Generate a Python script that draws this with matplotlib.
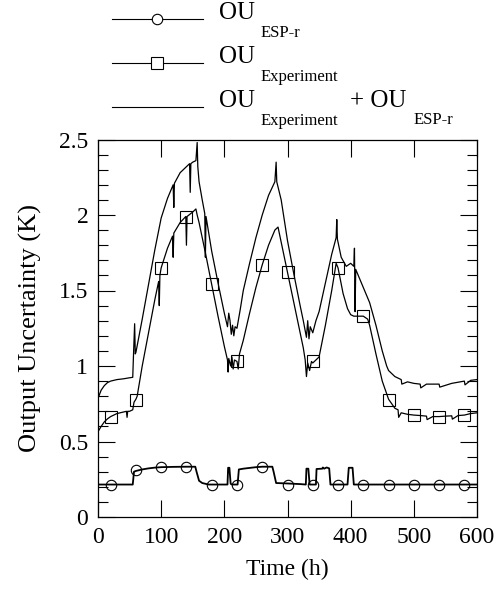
import numpy as np
import matplotlib
matplotlib.use('Agg')
import matplotlib.pyplot as plt
from matplotlib.lines import Line2D
from matplotlib.ticker import MultipleLocator

plt.rcParams['font.family'] = ['Liberation Serif', 'DejaVu Serif']

# OU of the ESP-r model (K)
t_esp = [0, 55, 57, 60, 70, 80, 90, 100, 120, 140, 154, 156, 160, 165, 175,
         205, 206, 208, 210, 212, 221, 223, 230, 240, 250, 260, 276, 278, 282,
         300, 320, 329, 330, 333, 335, 345, 346, 355, 356, 358, 362, 366, 368,
         395, 397, 403, 405, 600]
v_esp = [0.215, 0.215, 0.30, 0.305, 0.315, 0.322, 0.327, 0.33, 0.332, 0.333, 0.333, 0.30, 0.24, 0.225, 0.215,
         0.215, 0.326, 0.326, 0.22, 0.215, 0.215, 0.315, 0.32, 0.325, 0.33, 0.333, 0.333, 0.30, 0.225,
         0.222, 0.218, 0.215, 0.32, 0.32, 0.215, 0.215, 0.318, 0.32, 0.328, 0.32, 0.328, 0.322, 0.215,
         0.215, 0.326, 0.326, 0.215, 0.215]

# OU of the experiment (K)
t_exp = [0, 5, 10, 15, 20, 30, 40, 45, 46, 47, 50, 55, 57, 60, 62, 70, 80, 90, 96, 97, 98,
         100, 110, 118, 119, 120, 130, 139, 140, 141, 150, 155, 157, 160, 165, 170, 180, 190,
         200, 205, 206, 207, 210, 212, 214, 216, 220, 222, 224, 230, 240, 250, 260, 270, 280,
         285, 290, 300, 310, 320, 325, 328, 330, 332, 335, 338, 340, 345, 350, 360, 370, 377,
         380, 388, 395, 400, 405, 410, 420, 427, 430, 440, 450, 460, 470, 475, 476, 480, 490,
         500, 510, 520, 521, 530, 540, 550, 560, 561, 570, 580, 590, 600]
v_exp = [0.565, 0.60, 0.63, 0.65, 0.665, 0.685, 0.695, 0.70, 0.66, 0.70, 0.70, 0.71, 0.76, 0.78, 0.80, 1.0, 1.22, 1.44, 1.56, 1.40, 1.60,
         1.65, 1.78, 1.86, 1.72, 1.88, 1.95, 1.99, 1.80, 1.99, 2.02, 2.04, 2.00, 1.95, 1.85, 1.75, 1.54, 1.33,
         1.13, 1.04, 0.96, 1.05, 1.00, 1.06, 0.98, 1.04, 1.03, 0.98, 1.08, 1.17, 1.35, 1.52, 1.67, 1.80, 1.90,
         1.92, 1.82, 1.62, 1.42, 1.22, 1.12, 1.04, 0.93, 1.02, 0.97, 1.03, 1.02, 1.04, 1.06, 1.27, 1.50, 1.68,
         1.65, 1.48, 1.38, 1.34, 1.33, 1.33, 1.33, 1.31, 1.27, 1.08, 0.90, 0.78, 0.72, 0.71, 0.66, 0.69, 0.68,
         0.675, 0.672, 0.668, 0.645, 0.665, 0.665, 0.668, 0.67, 0.648, 0.672, 0.675, 0.685, 0.69]

# OU experiment + OU ESP-r (K)
t_sum = [0, 5, 10, 15, 20, 30, 40, 50, 55, 56, 58, 59, 60, 70, 80, 90, 100, 110, 119, 120, 121,
         130, 140, 145, 146, 147, 150, 155, 157, 158, 160, 165, 169, 170, 171, 180, 190, 200,
         205, 207, 209, 211, 213, 215, 217, 220, 225, 230, 240, 250, 260, 270, 280, 282, 283,
         290, 300, 310, 320, 325, 330, 332, 334, 336, 340, 345, 350, 360, 370, 377, 378, 379,
         385, 393, 400, 405, 406, 407, 408, 410, 420, 430, 440, 450, 457, 460, 470, 480, 481,
         490, 500, 510, 511, 520, 540, 541, 560, 580, 581, 590, 600]
v_sum = [0.786, 0.84, 0.87, 0.89, 0.90, 0.91, 0.915, 0.922, 0.925, 1.05, 1.28, 1.08, 1.09, 1.31, 1.54, 1.77, 1.98, 2.11, 2.20, 2.05, 2.21,
         2.28, 2.32, 2.34, 2.15, 2.34, 2.35, 2.36, 2.48, 2.32, 2.22, 2.10, 2.01, 1.72, 1.99, 1.76, 1.55, 1.35,
         1.26, 1.35, 1.30, 1.21, 1.27, 1.20, 1.26, 1.25, 1.37, 1.50, 1.68, 1.85, 2.00, 2.13, 2.22, 2.35, 2.22,
         2.10, 1.83, 1.61, 1.40, 1.30, 1.19, 1.30, 1.18, 1.26, 1.22, 1.30, 1.36, 1.55, 1.74, 1.85, 1.97, 1.84,
         1.72, 1.66, 1.68, 1.66, 1.78, 1.36, 1.64, 1.62, 1.52, 1.42, 1.27, 1.10, 1.00, 0.97, 0.93, 0.91, 0.88,
         0.895, 0.885, 0.88, 0.855, 0.88, 0.88, 0.86, 0.885, 0.90, 0.875, 0.905, 0.91]

# marker positions
mark_t = [20, 60, 100, 140, 180, 220, 260, 300, 340, 380, 420, 460, 500, 540, 580]
esp_marks = [0.215, 0.31, 0.328, 0.333, 0.215, 0.212, 0.333, 0.215, 0.215, 0.215, 0.215, 0.215, 0.215, 0.215, 0.215]
exp_marks = [0.665, 0.775, 1.65, 1.99, 1.54, 1.035, 1.67, 1.62, 1.03, 1.65, 1.33, 0.775, 0.675, 0.665, 0.675]

W, H = 499, 596
fig = plt.figure(figsize=(W / 100, H / 100), dpi=100)
ax = fig.add_axes([98 / W, 1 - 517 / H, 379 / W, 377.5 / H])

ax.plot(t_esp, v_esp, color='black', lw=1.3)
ax.plot(mark_t, esp_marks, ls='none', marker='o', ms=7.5, mfc='none', mec='black', mew=0.8)
ax.plot(t_exp, v_exp, color='black', lw=0.9)
ax.plot(mark_t, exp_marks, ls='none', marker='s', ms=8, mfc='none', mec='black', mew=0.8)
ax.plot(t_sum, v_sum, color='black', lw=0.9)

ax.set_xlim(0, 600)
ax.set_ylim(0, 2.5)
ax.xaxis.set_major_locator(MultipleLocator(100))
ax.yaxis.set_major_locator(MultipleLocator(0.5))
ax.yaxis.set_minor_locator(MultipleLocator(0.1))
ax.yaxis.set_major_formatter(lambda v, p: f'{v:g}')
ax.tick_params(which='both', direction='in', top=True, right=True, labelsize=17, pad=7)
ax.tick_params(which='major', length=12, width=0.8)
ax.tick_params(which='minor', length=7, width=0.8)
for s in ax.spines.values():
    s.set_linewidth(0.9)

ax.set_xlabel('Time (h)', fontsize=17, labelpad=8)
ax.set_ylabel('Output Uncertainty (K)', fontsize=19, labelpad=12)

# legend drawn by hand
def fx(x):
    return x / W

def fy(y):
    return 1 - y / H

rows = [19, 63, 107]
for i, y in enumerate(rows):
    fig.add_artist(Line2D([fx(112), fx(203)], [fy(y), fy(y)], color='black', lw=0.8))
mk = ['o', 's']
for i in range(2):
    fig.add_artist(Line2D([fx(157)], [fy(rows[i])], ls='none', marker=mk[i], ms=7.5 if i == 0 else 8,
                          mfc='white', mec='black', mew=0.8))

subs = ['ESP-r', 'Experiment', 'Experiment']
for i, y in enumerate(rows):
    fig.text(fx(219), fy(y), 'OU', fontsize=18, va='baseline')
    fig.text(fx(261), fy(y + 18), subs[i], fontsize=12, va='baseline')
fig.text(fx(350), fy(rows[2]), '+ OU', fontsize=18, va='baseline')
fig.text(fx(414), fy(rows[2] + 17), 'ESP-r', fontsize=12, va='baseline')

fig.savefig('out.png', dpi=100)
